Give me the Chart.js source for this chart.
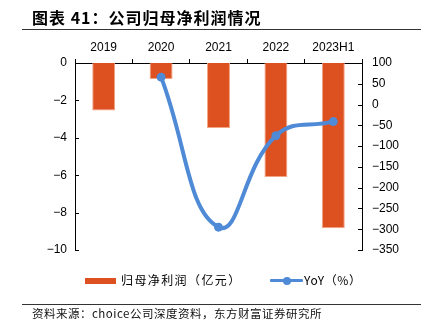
<!DOCTYPE html>
<html><head><meta charset="utf-8">
<script src="https://cdn.jsdelivr.net/npm/chart.js@4/dist/chart.umd.min.js"></script>
<style>
html,body{margin:0;padding:0;background:#fff;width:432px;height:333px;overflow:hidden;position:relative;font-family:"Noto Sans CJK SC","Liberation Sans",sans-serif;}
#wrap{position:absolute;left:0;top:0;width:432px;height:333px;}
.title{position:absolute;left:32px;top:6px;font-size:16px;font-weight:bold;letter-spacing:1px;color:#000;white-space:nowrap;line-height:22px;}
.hr{position:absolute;left:22px;width:399px;height:0;border-top:1px solid #333;}
.src{position:absolute;left:32px;top:305px;font-size:11.5px;color:#111;white-space:nowrap;letter-spacing:0.5px;line-height:16px;}
.leg{position:absolute;font-size:12px;color:#000;white-space:nowrap;line-height:16px;letter-spacing:1.4px;}
</style></head>
<body>
<div id="wrap"><canvas id="c" width="432" height="333"></canvas></div>
<div class="title">图表 41：公司归母净利润情况</div>
<div class="hr" style="top:29px"></div>
<div class="hr" style="top:304px"></div>
<div class="src">资料来源：choice公司深度资料，东方财富证券研究所</div>
<div style="position:absolute;left:85px;top:278px;width:31px;height:6px;background:#DD5020"></div>
<div class="leg" style="left:121px;top:272px">归母净利润（亿元）</div>
<div style="position:absolute;left:270px;top:279px;width:33px;height:3px;background:#4F8AD6;border-radius:1px"></div>
<div style="position:absolute;left:283px;top:276.5px;width:8px;height:8px;background:#4F8AD6;border-radius:50%"></div>
<div class="leg" style="left:304px;top:272px;letter-spacing:0.6px">YoY（%）</div>
<script>
const categories = ["2019","2020","2021","2022","2023H1"];
const netProfit = [-2.54, -0.86, -3.48, -6.1, -8.84];
const yoy = [null, 66, -295, -75, -41];
const leftTicks = [0, -2, -4, -6, -8, -10];
const rightTicks = [100, 50, 0, -50, -100, -150, -200, -250, -300, -350];

const minus = v => String(v).replace('-', '\u2212');
const tickFont = {family: "'Liberation Sans', Arial, sans-serif", size: 12};

const inwardTicks = {
  id: 'inwardTicks',
  afterDraw(chart) {
    const ctx = chart.ctx;
    ctx.save();
    ctx.strokeStyle = '#000';
    ctx.lineWidth = 1;
    const y = chart.scales.y, y1 = chart.scales.y1;
    y.ticks.forEach((t, i) => {
      const p = Math.round(y.getPixelForTick(i)) + 0.5;
      ctx.beginPath(); ctx.moveTo(y.right, p); ctx.lineTo(y.right + 4, p); ctx.stroke();
    });
    y1.ticks.forEach((t, i) => {
      const p = Math.round(y1.getPixelForTick(i)) + 0.5;
      ctx.beginPath(); ctx.moveTo(y1.left, p); ctx.lineTo(y1.left - 4, p); ctx.stroke();
    });
    ctx.restore();
  }
};

new Chart(document.getElementById('c'), {
  data: {
    labels: categories,
    datasets: [
      {type: 'line', data: yoy, yAxisID: 'y1', order: 0,
       borderColor: '#4F8AD6', backgroundColor: '#4F8AD6', borderWidth: 4,
       pointRadius: 4.5, pointHoverRadius: 4.5, pointBackgroundColor: '#4F8AD6', pointBorderWidth: 0,
       tension: 0.45, clip: false, spanGaps: false},
      {type: 'bar', data: netProfit, yAxisID: 'y', order: 1,
       backgroundColor: '#DD5020', borderColor: '#F2A585', borderWidth: 1,
       barPercentage: 0.4, categoryPercentage: 1.0}
    ]
  },
  options: {
    responsive: false, animation: false, devicePixelRatio: 1,
    layout: {padding: {left: 0, right: 0, top: 0, bottom: 83}},
    plugins: {legend: {display: false}, tooltip: {enabled: false}},
    scales: {
      x: {position: 'top', offset: true,
          grid: {display: true, drawOnChartArea: false, drawTicks: true, tickLength: 4, color: '#000', offset: true},
          border: {display: true, color: '#000', width: 1},
          ticks: {color: '#000', font: tickFont, padding: 4, maxRotation: 0},
          afterFit(s) { s.height = 63; }},
      y: {position: 'left', min: -10, max: 0,
          afterBuildTicks(s) { s.ticks = leftTicks.map(v => ({value: v})); },
          grid: {display: false, drawOnChartArea: false, drawTicks: false},
          border: {display: true, color: '#000', width: 1},
          ticks: {color: '#000', font: tickFont, padding: 8, callback: v => minus(v)},
          afterFit(s) { s.width = 75; }},
      y1: {position: 'right', min: -350, max: 100,
          afterBuildTicks(s) { s.ticks = rightTicks.map(v => ({value: v})); },
          grid: {display: false, drawOnChartArea: false, drawTicks: false},
          border: {display: true, color: '#000', width: 1},
          ticks: {color: '#000', font: tickFont, padding: 10, callback: v => minus(v)},
          afterFit(s) { s.width = 70; }}
    }
  },
  plugins: [inwardTicks]
});
</script>
</body></html>
